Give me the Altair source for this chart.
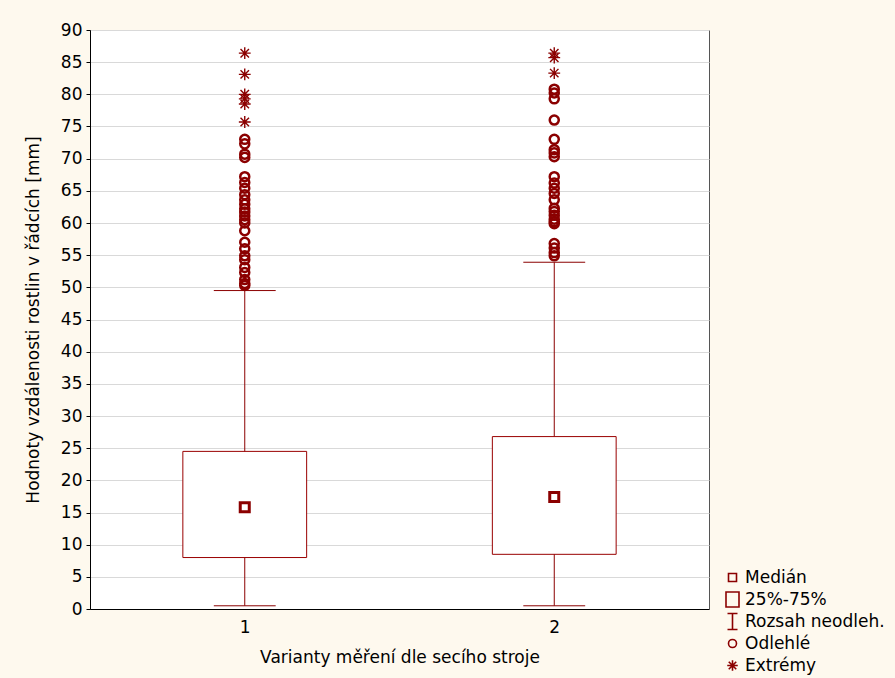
import altair as alt
import pandas as pd

# ---- data ----
groups = [1, 2]
q1 = [8.0, 8.5]
medians = [15.8, 17.4]
q3 = [24.5, 26.8]
whisk_lo = [0.5, 0.5]
whisk_hi = [49.5, 53.9]

outliers_1 = [73.0, 72.3, 70.7, 70.2, 67.2, 66.3, 65.4, 64.4, 63.6, 62.9, 62.2,
              61.7, 61.1, 60.5, 60.0, 58.8, 57.0, 56.0, 54.9, 54.3, 53.1, 52.3,
              51.2, 50.6, 50.3]
extremes_1 = [86.4, 83.1, 80.0, 79.3, 78.5, 75.7]
outliers_2 = [80.8, 80.2, 79.3, 76.0, 73.0, 71.4, 70.9, 70.3, 67.2, 66.2, 65.4,
              64.6, 63.6, 62.3, 61.8, 61.2, 60.6, 60.2, 59.9, 56.8, 56.1, 55.4, 54.9]
extremes_2 = [86.4, 85.7, 83.3]

legend_labels = ["Medián", "25%-75%", "Rozsah neodleh.", "Odlehlé", "Extrémy"]
x_title = "Varianty měření dle secího stroje"
y_title = "Hodnoty vzdálenosti rostlin v řádcích [mm]"
y_ticks = list(range(0, 95, 5))

# ---- tables ----
summary = pd.DataFrame({"g": groups, "q1": q1, "med": medians, "q3": q3,
                        "lo": whisk_lo, "hi": whisk_hi})
out_rows, ext_rows = [], []
for g, outs, exts in [(1, outliers_1, extremes_1), (2, outliers_2, extremes_2)]:
    out_rows += [{"g": g, "v": v, "kind": legend_labels[3]} for v in outs]
    ext_rows += [{"g": g, "v": v, "kind": legend_labels[4]} for v in exts]
out_df = pd.DataFrame(out_rows)
ext_df = pd.DataFrame(ext_rows)

RED = "#8B0000"
FONT = "DejaVu Sans"
PAD = "M0,-1.6M0,1.6"  # equal vertical extent for legend rows

shape_scale = alt.Scale(
    domain=legend_labels,
    range=[
        "M-0.8,-0.8H0.8V0.8H-0.8Z" + PAD,
        "M-1.3,-1.5H1.3V1.5H-1.3Z" + PAD,
        "M-1,-1.6H1M0,-1.6V1.6M-1,1.6H1" + PAD,
        "M0.8,0A0.8,0.8,0,1,1,-0.8,0A0.8,0.8,0,1,1,0.8,0Z" + PAD,
        "M-1.05,0H1.05M0,-1.05V1.05M-0.75,-0.75L0.75,0.75M-0.75,0.75L0.75,-0.75" + PAD,
    ],
)
legend = alt.Legend(
    title=None, orient="none", legendX=634, legendY=539, padding=0,
    labelFont=FONT, labelFontSize=17, labelColor="black", labelOffset=4,
    rowPadding=-1, symbolSize=100, symbolStrokeColor=RED,
    symbolFillColor="transparent", symbolStrokeWidth=1.6,
)

x_scale = alt.Scale(domain=[0.5, 2.5], nice=False, zero=False)
x_axis = alt.Axis(values=[1, 2], format="d", title=x_title, grid=False,
                  ticks=False, labelPadding=10, titlePadding=14,
                  domainColor="black")
y_scale = alt.Scale(domain=[0, 90], nice=False)
y_axis = alt.Axis(values=y_ticks, title=y_title, grid=True,
                  gridColor="#d9d9d9", tickSize=4, tickColor="black",
                  domainColor="black", labelPadding=4, titlePadding=18,
                  labelOverlap=False)


def X(field):
    return alt.X(field, scale=x_scale, axis=x_axis)


def Y(field):
    return alt.Y(field, scale=y_scale, axis=y_axis)


base = alt.Chart(summary).transform_calculate(
    box_l="datum.g - 0.2", box_r="datum.g + 0.2",
    cap_l="datum.g - 0.1", cap_r="datum.g + 0.1",
)

whisker = base.mark_rule(color=RED, strokeWidth=1).encode(
    x=X("g:Q"), y=Y("lo:Q"), y2="hi:Q")
cap_lo = base.mark_rule(color=RED, strokeWidth=1).encode(
    x=X("cap_l:Q"), x2="cap_r:Q", y=Y("lo:Q"))
cap_hi = base.mark_rule(color=RED, strokeWidth=1).encode(
    x=X("cap_l:Q"), x2="cap_r:Q", y=Y("hi:Q"))
box = base.mark_rect(fill="white", stroke="#990000", strokeWidth=1).encode(
    x=X("box_l:Q"), x2="box_r:Q", y=Y("q1:Q"), y2="q3:Q")
median = base.transform_calculate(kind="'Medián'").mark_point(
    filled=False, color=RED, strokeWidth=3, size=127, opacity=1).encode(
    x=X("g:Q"), y=Y("med:Q"),
    shape=alt.Shape("kind:N", scale=shape_scale, legend=legend))
outl = alt.Chart(out_df).mark_point(
    filled=False, color=RED, strokeWidth=2.5, size=127, opacity=1).encode(
    x=X("g:Q"), y=Y("v:Q"),
    shape=alt.Shape("kind:N", scale=shape_scale, legend=legend))
extr = alt.Chart(ext_df).mark_point(
    filled=False, color=RED, strokeWidth=1.4, size=127, opacity=1).encode(
    x=X("g:Q"), y=Y("v:Q"),
    shape=alt.Shape("kind:N", scale=shape_scale, legend=legend))

chart = alt.layer(whisker, cap_lo, cap_hi, box, median, outl, extr).properties(
    width=619, height=579,
    padding={"left": 90, "top": 30, "right": 186, "bottom": 69},
    autosize=alt.AutoSizeParams(type="none"),
    background="#FEF9EE",
).configure_view(fill="white", stroke="#555555", strokeWidth=1).configure_axis(
    labelFont=FONT, labelFontSize=17, labelColor="black",
    titleFont=FONT, titleFontSize=17, titleFontWeight="normal", titleColor="black",
)

chart.save("out.html", embed_options={"renderer": "svg", "actions": False})
